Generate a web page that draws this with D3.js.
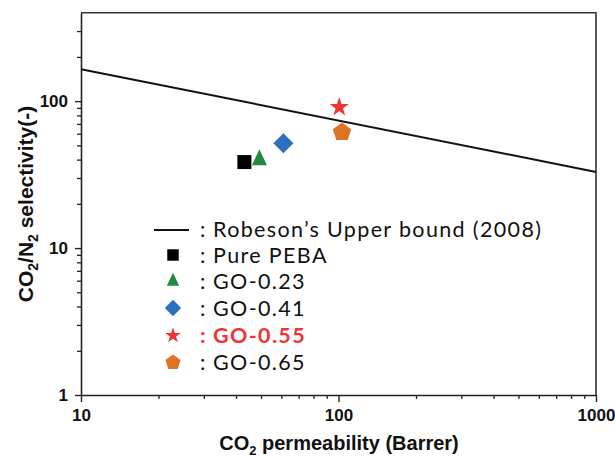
<!DOCTYPE html>
<html>
<head>
<meta charset="utf-8">
<script src="https://cdn.jsdelivr.net/npm/d3@7"></script>
<style>
  body { margin: 0; background: #fff; }
  svg { display: block; }
</style>
</head>
<body>
<svg id="chart" width="615" height="457"></svg>
<script>
// data
var samples = ["Pure PEBA", "GO-0.23", "GO-0.41", "GO-0.55", "GO-0.65"]
var permeability = [43.1, 49.3, 61.1, 100.7, 103.2]
var selectivity = [38.5, 39.8, 51.8, 90.9, 61.5]
var colors = ["#000000", "#23893f", "#2a70bf", "#ef3434", "#df7325"]
var shapes = ["square", "triangle", "diamond", "star", "pentagon"]

var robesonX = [10, 1000]
var robesonY = [165, 33]
var robesonLabel = "Robeson\u2019s Upper bound (2008)"

var xTickLabels = [10, 100, 1000]
var yTickLabels = [1, 10, 100]

var dimensions = {
    width: 615,
    height: 457,
    margin: { top: 12.7, bottom: 62, right: 19, left: 81 }
}

var svg = d3.select("#chart")

var xScale = d3.scaleLog()
    .domain([10, 1000])
    .range([dimensions.margin.left, dimensions.width - dimensions.margin.right])

var yScale = d3.scaleLog()
    .domain([1, 400])
    .range([dimensions.height - dimensions.margin.bottom, dimensions.margin.top])

var x0 = xScale.range()[0], x1 = xScale.range()[1]
var y0 = yScale.range()[0], y1 = yScale.range()[1]

// frame (top + right)
svg.append("path")
    .attr("d", "M" + x0 + "," + y1 + "H" + x1 + "V" + y0)
    .attr("fill", "none")
    .attr("stroke", "#333")
    .attr("stroke-width", 1.6)

// minor ticks
var xMinor = xScale.ticks().filter(d => xTickLabels.indexOf(d) < 0)
var yMinor = yScale.ticks().filter(d => yTickLabels.indexOf(d) < 0 && d < 400)

svg.append("g")
    .attr("transform", "translate(0," + y0 + ")")
    .call(d3.axisBottom(xScale).tickValues(xMinor).tickSize(4).tickFormat(""))
    .call(g => g.select(".domain").remove())
    .selectAll("line").attr("stroke", "#222").attr("stroke-width", 1.3)

svg.append("g")
    .attr("transform", "translate(" + x0 + ",0)")
    .call(d3.axisLeft(yScale).tickValues(yMinor).tickSize(4).tickFormat(""))
    .call(g => g.select(".domain").remove())
    .selectAll("line").attr("stroke", "#222").attr("stroke-width", 1.3)

// major axes
var xAxis = svg.append("g")
    .attr("transform", "translate(0," + y0 + ")")
    .call(d3.axisBottom(xScale).tickValues(xTickLabels).tickSize(7).tickSizeOuter(0).tickPadding(7).tickFormat(d3.format("d")))
xAxis.select(".domain").attr("stroke", "#222").attr("stroke-width", 1.6)
xAxis.selectAll("line").attr("stroke", "#222").attr("stroke-width", 1.4)
xAxis.selectAll("text")
    .style("font-family", "'Liberation Sans', Arial, sans-serif")
    .style("font-weight", "bold")
    .style("font-size", "17px")
    .attr("fill", "#111")

var yAxis = svg.append("g")
    .attr("transform", "translate(" + x0 + ",0)")
    .call(d3.axisLeft(yScale).tickValues(yTickLabels).tickSize(6).tickSizeOuter(0).tickPadding(7).tickFormat(d3.format("d")))
yAxis.select(".domain").attr("stroke", "#222").attr("stroke-width", 1.6)
yAxis.selectAll("line").attr("stroke", "#222").attr("stroke-width", 1.4)
yAxis.selectAll("text")
    .style("font-family", "'Liberation Sans', Arial, sans-serif")
    .style("font-weight", "bold")
    .style("font-size", "17px")
    .attr("fill", "#111")

// axis titles
var xTitle = svg.append("text")
    .attr("x", 339)
    .attr("y", 450)
    .attr("text-anchor", "middle")
    .style("font-family", "'Liberation Sans', Arial, sans-serif")
    .style("font-weight", "bold")
    .style("font-size", "20px")
    .attr("fill", "#111")
xTitle.append("tspan").text("CO")
xTitle.append("tspan").text("2").style("font-size", "13px").attr("dy", 5)
xTitle.append("tspan").text(" permeability (Barrer)").attr("dy", -5)

var yTitle = svg.append("text")
    .attr("transform", "translate(33,204) rotate(-90)")
    .attr("text-anchor", "middle")
    .style("font-family", "'Liberation Sans', Arial, sans-serif")
    .style("font-weight", "bold")
    .style("font-size", "21px")
    .attr("fill", "#111")
yTitle.append("tspan").text("CO")
yTitle.append("tspan").text("2").style("font-size", "14px").attr("dy", 5)
yTitle.append("tspan").text("/N").attr("dy", -5)
yTitle.append("tspan").text("2").style("font-size", "14px").attr("dy", 5)
yTitle.append("tspan").text(" selectivity(-)").attr("dy", -5)

// Robeson upper bound
var line = d3.line().x(d => xScale(d[0])).y(d => yScale(d[1]))
svg.append("path")
    .datum(d3.zip(robesonX, robesonY))
    .attr("d", line)
    .attr("fill", "none")
    .attr("stroke", "#111")
    .attr("stroke-width", 2)

// marker shapes
function polygon(n, r, rot) {
    var pts = d3.range(n).map(i => {
        var a = rot + i * 2 * Math.PI / n
        return [r * Math.sin(a), -r * Math.cos(a)]
    })
    return "M" + pts.join("L") + "Z"
}
function markerPath(shape, s) {
    if (shape == "square") return d3.symbol(d3.symbolSquare, 196 * s * s)()
    if (shape == "diamond") return d3.symbol(d3.symbolSquare, 200 * s * s)()
    if (shape == "star") return d3.symbol(d3.symbolStar, 115 * s * s)()
    if (shape == "pentagon") return polygon(5, 9.7 * s, 0)
    // triangle, a bit taller than wide
    var w = 15 * s, h = 16 * s
    return "M0," + (-2 * h / 3) + "L" + (w / 2) + "," + (h / 3) + "L" + (-w / 2) + "," + (h / 3) + "Z"
}

svg.append("g")
    .selectAll("path")
    .data(samples)
    .enter()
    .append("path")
    .attr("d", (d, i) => markerPath(shapes[i], 1))
    .attr("transform", (d, i) => "translate(" + xScale(permeability[i]) + "," + yScale(selectivity[i]) + ")" + (shapes[i] == "diamond" ? " rotate(45)" : ""))
    .attr("fill", (d, i) => colors[i])

// legend
var legendRows = [229, 255, 281.5, 308, 335.5, 362.5]
var legendFont = "Lato, 'Open Sans', sans-serif"
var legend = svg.append("g")

legend.append("line")
    .attr("x1", 154).attr("x2", 189)
    .attr("y1", legendRows[0] + 1).attr("y2", legendRows[0] + 1)
    .attr("stroke", "#111").attr("stroke-width", 2.2)

legend.selectAll(".lm")
    .data(samples)
    .enter()
    .append("path")
    .attr("d", (d, i) => markerPath(shapes[i], 0.82))
    .attr("transform", (d, i) => "translate(173," + legendRows[i + 1] + ")" + (shapes[i] == "diamond" ? " rotate(45)" : ""))
    .attr("fill", (d, i) => colors[i])

var labels = [robesonLabel].concat(samples)

legend.selectAll(".colon")
    .data(labels)
    .enter()
    .append("text")
    .attr("x", 200)
    .attr("y", (d, i) => legendRows[i] + 7.5)
    .style("font-family", legendFont)
    .style("font-size", "21.5px")
    .style("font-weight", (d, i) => i == 4 ? "bold" : "normal")
    .attr("fill", (d, i) => i == 4 ? "#ef3434" : "#111")
    .text(":")

var legendText = legend.selectAll(".lt")
    .data(labels)
    .enter()
    .append("text")
    .attr("x", 213)
    .attr("y", (d, i) => legendRows[i] + 7.5)
    .style("font-family", legendFont)
    .style("font-size", "21.5px")
    .style("font-weight", (d, i) => i == 4 ? "bold" : "normal")
    .attr("fill", (d, i) => i == 4 ? "#ef3434" : "#111")
    .text(d => d)

// spread the letters a little so the long entry spans the reference width
var longest = legendText.filter((d, i) => i == 0).node().getComputedTextLength()
var spacing = Math.max(0, (328 - longest) / (robesonLabel.length - 1))
legendText.style("letter-spacing", spacing + "px")
</script>
</body>
</html>
